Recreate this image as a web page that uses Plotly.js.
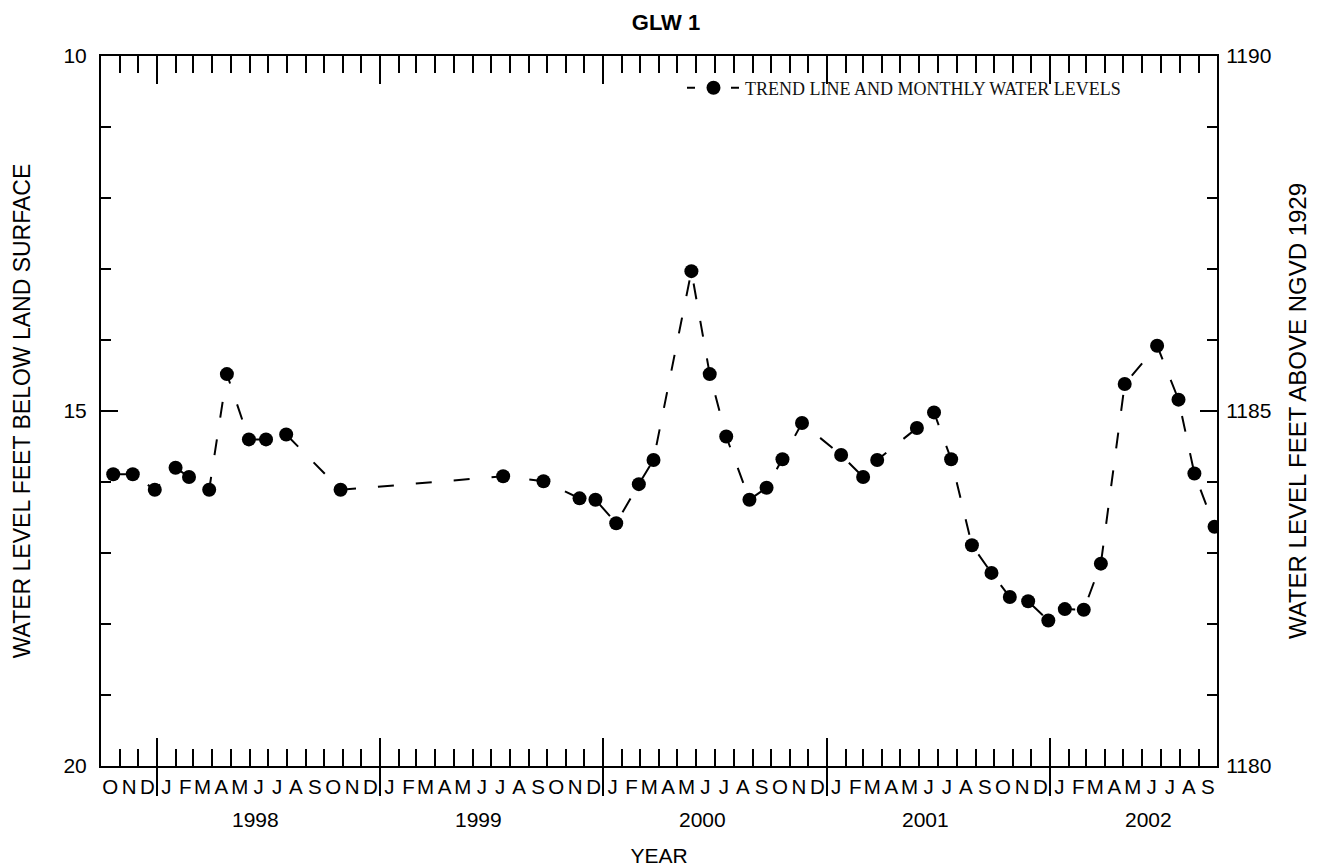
<!DOCTYPE html>
<html>
<head>
<meta charset="utf-8">
<script src="https://cdn.plot.ly/plotly-3.0.1.min.js"></script>
<style>html,body{margin:0;padding:0;background:#fff;}#chart{width:1317px;height:867px;}</style>
</head>
<body>
<div id="chart"></div>
<script>
// ---- data ----
const sampleDates = [
  '1997-10-21','1997-11-22','1997-12-28','1998-01-31','1998-02-22','1998-03-27','1998-04-25',
  '1998-05-31','1998-06-28','1998-07-31','1998-10-28',
  '1999-07-21','1999-09-25','1999-11-23','1999-12-19',
  '2000-01-22','2000-02-28','2000-03-23','2000-05-24','2000-06-23','2000-07-20','2000-08-27',
  '2000-09-24','2000-10-20','2000-11-21',
  '2001-01-24','2001-03-01','2001-03-24','2001-05-28','2001-06-25','2001-07-23','2001-08-26',
  '2001-09-27','2001-10-27','2001-11-26','2001-12-29',
  '2002-01-25','2002-02-25','2002-03-25','2002-05-03','2002-06-25','2002-07-30','2002-08-25','2002-09-27'
];
const depthBelowSurface = [
  15.89, 15.89, 16.11, 15.80, 15.93, 16.11, 14.48,
  15.40, 15.40, 15.33, 16.11,
  15.92, 15.99, 16.23, 16.25,
  16.58, 16.03, 15.69, 13.03, 14.48, 15.36, 16.25,
  16.08, 15.68, 15.17,
  15.62, 15.93, 15.69, 15.24, 15.02, 15.68, 16.89,
  17.28, 17.62, 17.68, 17.95,
  17.79, 17.80, 17.15, 14.62, 14.08, 14.84, 15.88, 16.63
];
const landSurfaceAltitude = 1200;

const xRange = ['1997-10-01', '2002-10-01'];
const monthLetters = ['O','N','D','J','F','M','A','M','J','J','A','S','O','N','D','J','F','M','A','M','J','J','A','S','O','N','D',
  'J','F','M','A','M','J','J','A','S','O','N','D','J','F','M','A','M','J','J','A','S','O','N','D','J','F','M','A','M','J','J','A','S'];
const monthMidDates = [];
(function(){
  let y = 1997, m = 10;
  for (let i = 0; i < monthLetters.length; i++) {
    monthMidDates.push(y + '-' + String(m).padStart(2,'0') + '-16');
    m++; if (m > 12) { m = 1; y++; }
  }
})();
const yearBoundaries = ['1998-01-01','1999-01-01','2000-01-01','2001-01-01','2002-01-01'];
const yearLabels = ['1998','1999','2000','2001','2002'];
const yearLabelDates = ['1998-07-01','1999-07-01','2000-07-01','2001-07-01','2002-07-01'];
const depthRange = [20, 10];
const altitudeRange = [1180, 1190];
const legendLabel = 'TREND LINE AND MONTHLY WATER LEVELS';

const FONT = 'Liberation Sans, Arial, Helvetica, sans-serif';
const SERIF = 'Liberation Serif, Times New Roman, serif';

const trace = {
  x: sampleDates,
  y: depthBelowSurface,
  type: 'scatter',
  mode: 'lines+markers',
  name: legendLabel,
  line: {color: '#000', width: 2, dash: '16px,22px'},
  marker: {color: '#000', size: 14, symbol: 'circle'},
  xaxis: 'x', yaxis: 'y',
  showlegend: false
};
// legend entry only (no data drawn)
const traceLegend = {
  x: [null], y: [null], type: 'scatter', mode: 'lines+markers',
  name: legendLabel,
  line: {color: '#000', width: 2, dash: '8px,14px,8px,14px'},
  marker: {color: '#000', size: 14, symbol: 'circle'},
  xaxis: 'x', yaxis: 'y', showlegend: true
};
// right axis companion (altitude), invisible
const traceAlt = {
  x: [sampleDates[0]],
  y: [landSurfaceAltitude - depthBelowSurface[0]],
  type: 'scatter', mode: 'markers',
  marker: {opacity: 0}, hoverinfo: 'skip', showlegend: false,
  xaxis: 'x', yaxis: 'y2'
};
const traceX2 = {x: [sampleDates[0]], y: [depthBelowSurface[0]], type: 'scatter', mode: 'markers',
  marker: {opacity: 0}, hoverinfo: 'skip', showlegend: false, xaxis: 'x2', yaxis: 'y'};
const traceX3 = {x: [sampleDates[0]], y: [depthBelowSurface[0]], type: 'scatter', mode: 'markers',
  marker: {opacity: 0}, hoverinfo: 'skip', showlegend: false, xaxis: 'x3', yaxis: 'y'};

const annotations = yearLabels.map((t, i) => ({
  text: t, x: yearLabelDates[i], xref: 'x', y: 0, yref: 'paper',
  xanchor: 'center', yanchor: 'middle', yshift: -53, xshift: -12,
  showarrow: false, font: {family: FONT, size: 21, color: '#000'}
}));

const layout = {
  width: 1317, height: 867,
  paper_bgcolor: '#fff', plot_bgcolor: '#fff',
  margin: {l: 101, r: 100, t: 56, b: 101, pad: 0},
  font: {family: FONT, color: '#000'},
  title: {text: '<b>GLW 1</b>', font: {family: FONT, size: 22, color: '#000'},
          x: 0.5057, xref: 'container', y: 1 - 22.5/867, yref: 'container', yanchor: 'middle'},
  showlegend: true,
  legend: {x: 0.5206, y: 0.981, xanchor: 'left', yanchor: 'top', bgcolor: 'rgba(0,0,0,0)',
           font: {family: SERIF, size: 18, color: '#111'}, borderwidth: 0, itemwidth: 53},
  xaxis: {
    type: 'date', range: xRange, fixedrange: true,
    showline: true, linecolor: '#000', linewidth: 2, mirror: 'ticks',
    showgrid: false, zeroline: false,
    tickmode: 'array', tickvals: yearBoundaries, ticks: 'inside', ticklen: 28, tickwidth: 2, tickcolor: '#000',
    showticklabels: false,
    minor: {tickmode: 'linear', tick0: '1997-10-01', dtick: 'M1', ticks: 'inside', ticklen: 17, tickwidth: 2, tickcolor: '#000', showgrid: false}
  },
  xaxis2: {
    type: 'date', range: xRange, overlaying: 'x', anchor: 'y', side: 'bottom',
    showline: false, showgrid: false, zeroline: false,
    tickmode: 'array', tickvals: yearBoundaries, ticks: 'outside', ticklen: 29, tickwidth: 2, tickcolor: '#000',
    showticklabels: false
  },
  xaxis3: {
    type: 'date', range: xRange, overlaying: 'x', anchor: 'y', side: 'bottom',
    showline: false, showgrid: false, zeroline: false,
    tickmode: 'array', tickvals: monthMidDates, ticktext: monthLetters, ticks: '',
    tickfont: {family: FONT, size: 20.5, color: '#000'}, tickangle: 0, ticklabelstandoff: 6,
    title: {text: 'YEAR', font: {family: FONT, size: 21, color: '#000'}, standoff: 54}
  },
  yaxis: {
    range: depthRange, fixedrange: true,
    showline: true, linecolor: '#000', linewidth: 2, showgrid: false, zeroline: false,
    tickmode: 'linear', tick0: 10, dtick: 5, ticks: 'inside', ticklen: 17, tickwidth: 2, tickcolor: '#000',
    tickfont: {family: FONT, size: 21, color: '#000'}, ticklabelstandoff: 8,
    minor: {tickmode: 'linear', tick0: 10, dtick: 1, ticks: 'inside', ticklen: 10, tickwidth: 2, tickcolor: '#000', showgrid: false},
    title: {text: 'WATER LEVEL FEET BELOW LAND SURFACE', font: {family: FONT, size: 23, color: '#000'}, standoff: 26}
  },
  yaxis2: {
    range: altitudeRange, overlaying: 'y', side: 'right', anchor: 'x',
    showline: true, linecolor: '#000', linewidth: 2, showgrid: false, zeroline: false,
    tickmode: 'linear', tick0: 1180, dtick: 5, ticks: 'inside', ticklen: 17, tickwidth: 2, tickcolor: '#000',
    tickfont: {family: FONT, size: 21, color: '#000'}, ticklabelstandoff: 3,
    minor: {tickmode: 'linear', tick0: 1180, dtick: 1, ticks: 'inside', ticklen: 10, tickwidth: 2, tickcolor: '#000', showgrid: false},
    title: {text: 'WATER LEVEL FEET ABOVE NGVD 1929', font: {family: FONT, size: 24, color: '#000'}, standoff: 19}
  },
  annotations: annotations
};

Plotly.newPlot('chart', [traceAlt, traceX2, traceX3, trace, traceLegend], layout, {staticPlot: true, displayModeBar: false});
</script>
</body>
</html>
